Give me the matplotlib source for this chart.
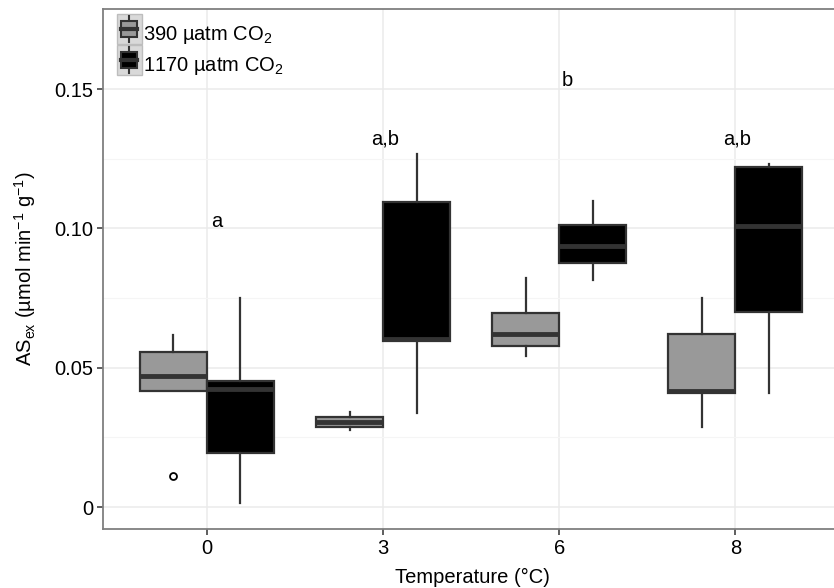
import numpy as np
import matplotlib
matplotlib.use("Agg")
import matplotlib.pyplot as plt
from matplotlib.legend_handler import HandlerBase
from matplotlib.patches import Rectangle
from matplotlib.lines import Line2D

plt.rcParams['font.family'] = ['Liberation Sans', 'DejaVu Sans']
plt.rcParams['mathtext.fontset'] = 'custom'
plt.rcParams['mathtext.rm'] = 'Liberation Sans'
plt.rcParams['mathtext.it'] = 'Liberation Sans:italic'

# temperature groups and CO2 treatments
temps = ['0', '3', '6', '8']
treatments = ['390 µatm CO$_2$', '1170 µatm CO$_2$']
fills = ['#999999', '#000000']

# box statistics: (whislo, q1, med, q3, whishi)
low_co2 = [
    (0.0418, 0.0418, 0.0470, 0.0557, 0.0617),
    (0.0276, 0.0288, 0.0306, 0.0324, 0.0342),
    (0.0543, 0.0578, 0.0620, 0.0695, 0.0821),
    (0.0288, 0.0410, 0.0416, 0.0620, 0.0749),
]
high_co2 = [
    (0.0015, 0.0193, 0.0422, 0.0452, 0.0751),
    (0.0339, 0.0597, 0.0605, 0.1094, 0.1266),
    (0.0815, 0.0877, 0.0938, 0.1011, 0.1099),
    (0.0408, 0.0701, 0.1010, 0.1222, 0.1230),
]
low_fliers = [[0.0111], [], [], []]
high_fliers = [[], [], [], []]

sig_labels = ['a', 'a,b', 'b', 'a,b']
sig_y = [0.1024, 0.1323, 0.1530, 0.1323]
sig_dx = [0.055, 0.01, 0.045, 0.01]

edge = '#333333'
fs = 14.5


def make_stats(rows, fliers):
    out = []
    for r, f in zip(rows, fliers):
        out.append(dict(whislo=r[0], q1=r[1], med=r[2], q3=r[3], whishi=r[4], fliers=f))
    return out


class BoxKey(HandlerBase):
    def create_artists(self, legend, orig_handle, xd, yd, width, height, fontsize, trans):
        bg = Rectangle((xd - 1, yd - 4), width + 2, height + 8, facecolor='#d9d9d9',
                       edgecolor='#bdbdbd', lw=1.0, transform=trans)
        cx = xd + width / 2
        wl = Line2D([cx, cx], [yd - 3, yd + height + 3], color=edge, lw=1.5, transform=trans)
        box = Rectangle((xd + 2, yd + height * 0.05), width - 4, height * 0.9,
                        facecolor=orig_handle.get_facecolor(), edgecolor=edge, lw=1.5,
                        transform=trans)
        md = Line2D([xd + 2, xd + width - 2], [yd + height / 2] * 2, color=edge, lw=3,
                    transform=trans)
        return [bg, wl, box, md]


fig = plt.figure(figsize=(8.34, 5.88), dpi=100)
ax = fig.add_axes([0.1235, 0.1003, 0.885, 0.8844])

pos = np.arange(len(temps))
off = 0.19
w = 0.38
common = dict(widths=w, patch_artist=True, showcaps=False, manage_ticks=False,
              whiskerprops=dict(color=edge, lw=1.6),
              medianprops=dict(color=edge, lw=3.5, solid_capstyle='butt'),
              flierprops=dict(marker='o', markersize=5, markerfacecolor='white',
                              markeredgecolor='black', markeredgewidth=1.3))
for stats, shift, col in [(make_stats(low_co2, low_fliers), -off, fills[0]),
                          (make_stats(high_co2, high_fliers), off, fills[1])]:
    ax.bxp(stats, positions=pos + shift,
           boxprops=dict(facecolor=col, edgecolor=edge, lw=1.6), **common)

for i, (lab, yv, dx) in enumerate(zip(sig_labels, sig_y, sig_dx)):
    ax.text(pos[i] + dx, yv, lab, ha='center', va='center', fontsize=fs)

ax.set_xlim(-0.59, 3.60)
ax.set_ylim(-0.0079, 0.1788)
ax.set_xticks(pos)
ax.set_xticklabels(temps)
ax.set_yticks([0, 0.05, 0.10, 0.15])
ax.set_yticklabels(['0', '0.05', '0.10', '0.15'])
ax.set_yticks([0.025, 0.075, 0.125], minor=True)
ax.grid(True, which='major', color='#ebebeb', lw=1.1)
ax.grid(True, which='minor', axis='y', color='#f5f5f5', lw=0.8)
ax.set_axisbelow(True)
ax.tick_params(axis='both', which='major', length=4, width=1.1, color='#333333',
               labelsize=fs, labelcolor='black', pad=3)
ax.tick_params(axis='y', which='minor', length=0)
for s in ['left', 'top', 'bottom']:
    ax.spines[s].set_color('#7f7f7f')
    ax.spines[s].set_linewidth(1.3)
ax.spines['right'].set_visible(False)

ax.set_xlabel('Temperature (°C)', fontsize=fs, labelpad=7)
ax.set_ylabel('AS$_{\\mathrm{ex}}$ (µmol min$^{-1}$ g$^{-1}$)', fontsize=fs, labelpad=12)

handles = [Rectangle((0, 0), 1, 1, facecolor=c) for c in fills]
ax.legend(handles, treatments, loc='upper left', frameon=False, fontsize=fs,
          handler_map={Rectangle: BoxKey()}, handlelength=1.1, handleheight=1.0,
          handletextpad=0.15, labelspacing=0.45, borderaxespad=0.45,
          borderpad=0.3)

fig.savefig('out.png', dpi=100)
